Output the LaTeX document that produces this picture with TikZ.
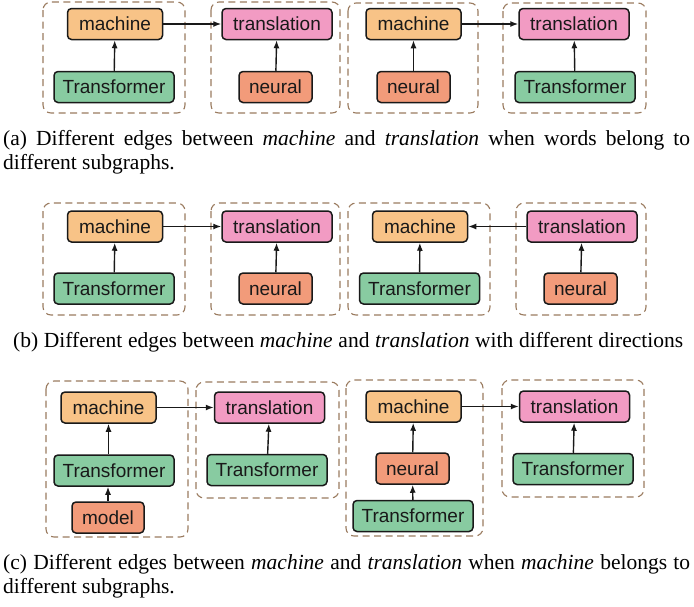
\documentclass[tikz,border=0pt]{standalone}
\usepackage{fontspec}
\setmainfont{Liberation Serif}
\setsansfont{Liberation Sans}
\usetikzlibrary{arrows.meta}
\definecolor{cm}{HTML}{F8C387}
\definecolor{ct}{HTML}{F29BC3}
\definecolor{cT}{HTML}{88CBA1}
\definecolor{cn}{HTML}{F29B7A}
\definecolor{gb}{HTML}{9A7B5F}
\tikzset{
  wbox/.style={draw=black!90, line width=1.5pt, rounded corners=4pt, inner sep=0pt,
    minimum height=31pt, font=\sffamily\fontsize{19}{22}\selectfont, text=black!90},
  mach/.style={wbox, fill=cm, minimum width=95pt},
  trans/.style={wbox, fill=ct, minimum width=110pt},
  tfm/.style={wbox, fill=cT, minimum width=120pt},
  neur/.style={wbox, fill=cn, minimum width=73pt},
  grp/.style={draw=gb, line width=1.1pt, dash pattern=on 7pt off 4.5pt, rounded corners=8pt},
  arr/.style={-{Latex[length=8pt,width=6pt]}, line width=1.4pt, black!90},
  captxt/.style={font=\fontsize{21.5}{24}\selectfont, inner sep=0pt, anchor=base west}
}
\begin{document}
\begin{tikzpicture}[x=1pt,y=-1pt]
\useasboundingbox (0,0) rectangle (694,606);
% ---------- panel a ----------
\draw[grp] (43,2) rectangle (185,113);
\draw[grp] (211,2) rectangle (340,113);
\draw[grp] (348,3) rectangle (478,113);
\draw[grp] (503,3) rectangle (646,113);
\node[mach] (a1m) at (115,24) {machine};
\node[tfm] (a1T) at (114,87) {Transformer};
\node[trans] (a2t) at (277,24) {translation};
\node[neur] (a2n) at (275.5,87) {neural};
\node[mach] (a3m) at (413.5,24) {machine};
\node[neur] (a3n) at (413.5,87) {neural};
\node[trans] (a4t) at (574,24) {translation};
\node[tfm] (a4T) at (575,87) {Transformer};
\draw[arr] (a1T) -- (a1m);
\draw[arr] (a2n) -- (a2t);
\draw[arr] (a3n) -- (a3m);
\draw[arr] (a4T) -- (a4t);
\draw[arr] (a1m) -- (a2t);
\draw[arr] (a3m) -- (a4t);
\node[captxt] (capa1) at (3,145) {\makebox[687pt][s]{(a) Different edges between \textit{machine} and \textit{translation} when words belong to}};
\node[captxt] (capa2) at (3,169) {different subgraphs.};
% ---------- panel b ----------
\draw[grp] (43,203) rectangle (185,315);
\draw[grp] (211,203) rectangle (340,315);
\draw[grp] (348,203) rectangle (490,315);
\draw[grp] (516,203) rectangle (646,315);
\node[mach] (b1m) at (115,226.5) {machine};
\node[tfm] (b1T) at (114,288.5) {Transformer};
\node[trans] (b2t) at (277,226.5) {translation};
\node[neur] (b2n) at (275.5,288.5) {neural};
\node[mach] (b3m) at (420,226.5) {machine};
\node[tfm] (b3T) at (419.5,288.5) {Transformer};
\node[trans] (b4t) at (582,226.5) {translation};
\node[neur] (b4n) at (580.5,288.5) {neural};
\draw[arr] (b1T) -- (b1m);
\draw[arr] (b2n) -- (b2t);
\draw[arr] (b3T) -- (b3m);
\draw[arr] (b4n) -- (b4t);
\draw[arr] (b1m) -- (b2t);
\draw[arr] (b4t) -- (b3m);
\node[captxt] (capb) at (13,347) {\makebox[670pt][s]{(b) Different edges between \textit{machine} and \textit{translation} with different directions}};
% ---------- panel c ----------
\draw[grp] (46,381) rectangle (188,537);
\draw[grp] (196,382) rectangle (339,498);
\draw[grp] (346,380) rectangle (483,536);
\draw[grp] (502,380) rectangle (644,497);
\node[mach] (c1m) at (108.5,407.5) {machine};
\node[tfm] (c1T) at (114,470.5) {Transformer};
\node[neur, minimum width=72pt] (c1d) at (108,517.5) {model};
\node[trans] (c2t) at (269.5,407.5) {translation};
\node[tfm] (c2T) at (267,470) {Transformer};
\node[mach] (c3m) at (413.5,406.5) {machine};
\node[neur] (c3n) at (412.5,468.5) {neural};
\node[tfm] (c3T) at (413,516) {Transformer};
\node[trans] (c4t) at (574.5,406.5) {translation};
\node[tfm] (c4T) at (573,469) {Transformer};
\draw[arr] (c1T.north -| c1m.south) -- (c1m.south);
\draw[arr] (c1d.north) -- (c1d.north |- c1T.south);
\draw[arr] (c2T) -- (c2t);
\draw[arr] (c3n) -- (c3m);
\draw[arr] (c3T) -- (c3n);
\draw[arr] (c4T) -- (c4t);
\draw[arr] (c1m) -- (c2t);
\draw[arr] (c3m) -- (c4t);
\node[captxt] (capc1) at (3,569) {\makebox[687pt][s]{(c) Different edges between \textit{machine} and \textit{translation} when \textit{machine} belongs to}};
\node[captxt] (capc2) at (3,593) {different subgraphs.};
\end{tikzpicture}
\end{document}
